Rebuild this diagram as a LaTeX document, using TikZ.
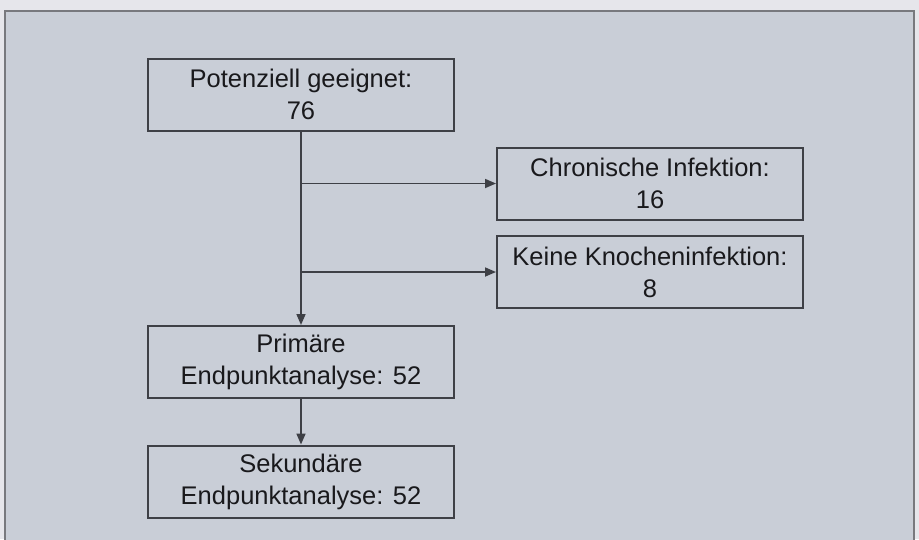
\documentclass[tikz,border=0pt]{standalone}
\usepackage{fontspec}
\setmainfont{Liberation Sans}
\usepackage{tikz}
\usetikzlibrary{arrows.meta}
\usetikzlibrary{positioning}
\definecolor{PageColor}{RGB}{230,230,235}
\definecolor{FrameFill}{RGB}{201,206,215}
\definecolor{LineColor}{RGB}{62,64,70}
\definecolor{TextColor}{RGB}{25,25,28}
\tikzstyle{box} = [draw=LineColor, line width=2pt, fill=FrameFill, minimum width=306pt, minimum height=72pt, align=center, text=TextColor, font=\fontsize{25.5}{32}\selectfont, inner sep=0pt]
\tikzstyle{arrow} = [LineColor, line width=1.7pt, -{Triangle[length=11pt,width=9pt]}]

\begin{document}
\begin{tikzpicture}[x=1pt, y=-1pt]
    \useasboundingbox (0,0) rectangle (919,539);
    \fill[PageColor] (0,0) rectangle (919,539);
    \clip (0,0) rectangle (919,539);
    \filldraw[fill=FrameFill, draw=LineColor!70, line width=1.5pt] (5,11) rectangle (914,560);

    \node[box] (pot) at (301,94.5) {Potenziell geeignet:\\76};
    \node[box] (chron) at (650,183.5) {Chronische Infektion:\\16};
    \node[box] (keine) at (650,272) {Keine Knocheninfektion:\\8};
    \node[box] (prim) at (301,362) {Primäre\\Endpunktanalyse: 52};
    \node[box] (sek) at (301,481.5) {Sekundäre\\Endpunktanalyse: 52};

    \draw[arrow] (pot) -- (prim);
    \draw[arrow] (pot.south |- chron.west) -- (chron);
    \draw[arrow] (pot.south |- keine.west) -- (keine);
    \draw[arrow] (prim) -- (sek);
\end{tikzpicture}
\end{document}
